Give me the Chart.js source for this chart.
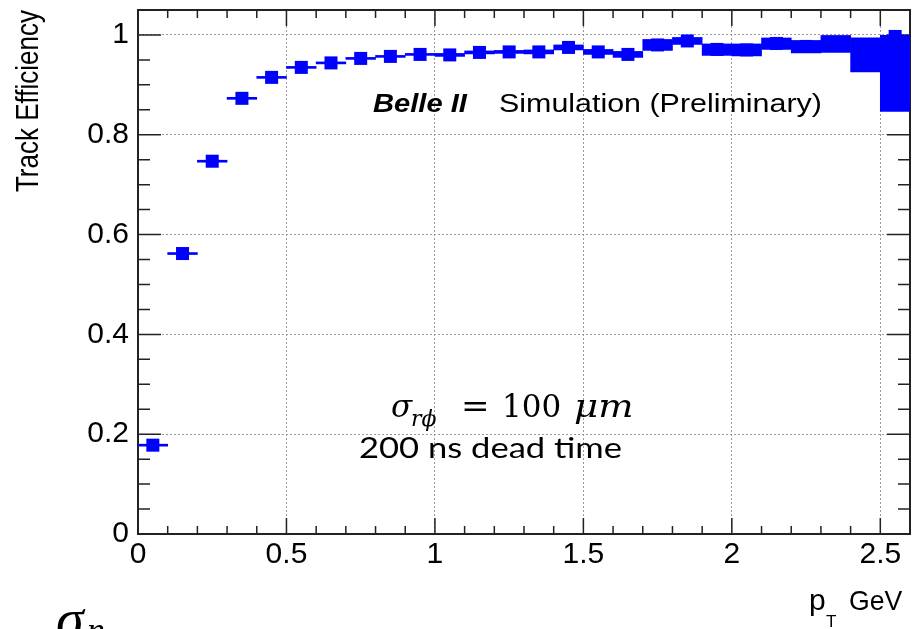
<!DOCTYPE html>
<html>
<head>
<meta charset="utf-8">
<title>Track Efficiency vs pT</title>
<script src="https://cdn.jsdelivr.net/npm/chart.js@4.4.1/dist/chart.umd.min.js"></script>
<style>
  html, body { margin: 0; padding: 0; background: #fff; }
  #wrap { width: 913px; height: 629px; }
</style>
</head>
<body>
<div id="wrap"><canvas id="effChart" width="913" height="629"></canvas></div>
<script>
// pT bin centres in GeV (bins are 0.1 GeV wide)
const ptBins = [0.05, 0.15, 0.25, 0.35, 0.45, 0.55, 0.65, 0.75, 0.85, 0.95,
                1.05, 1.15, 1.25, 1.35, 1.45, 1.55, 1.65, 1.75, 1.85, 1.95,
                2.05, 2.15, 2.25, 2.35, 2.45, 2.55];

// tracking efficiency per bin
const efficiency = [0.178, 0.562, 0.747, 0.873, 0.915, 0.935, 0.944, 0.953, 0.957, 0.961,
                    0.960, 0.965, 0.966, 0.966, 0.975, 0.966, 0.961, 0.980, 0.988, 0.971,
                    0.970, 0.983, 0.977, 0.984, 0.978, 0.997];

// asymmetric uncertainties (lower / upper)
const errLow = [0.002, 0.002, 0.002, 0.002, 0.002, 0.002, 0.002, 0.002, 0.002, 0.002,
                0.003, 0.003, 0.003, 0.004, 0.005, 0.005, 0.006, 0.011, 0.007, 0.012,
                0.012, 0.012, 0.013, 0.019, 0.052, 0.150];
const errHigh = [0.002, 0.002, 0.002, 0.002, 0.002, 0.002, 0.002, 0.002, 0.002, 0.002,
                 0.003, 0.003, 0.003, 0.004, 0.005, 0.005, 0.006, 0.011, 0.007, 0.011,
                 0.012, 0.011, 0.012, 0.015, 0.016, 0.002];

const xTickValues = [0, 0.5, 1, 1.5, 2, 2.5];
const xTickLabels = ['0', '0.5', '1', '1.5', '2', '2.5'];
const yTickValues = [0, 0.2, 0.4, 0.6, 0.8, 1];
const yTickLabels = ['0', '0.2', '0.4', '0.6', '0.8', '1'];

const BLUE = '#0000ff';
const ROOT_FONT = '"Liberation Sans", Arial, sans-serif';
const SERIF = '"Liberation Serif", "DejaVu Serif", serif';
const MATH = '"DejaVu Serif", "Liberation Serif", serif';

// text squeezed/stretched horizontally by sx
function drawText(ctx, text, x, y, font, sx, align) {
    ctx.save();
    ctx.font = font;
    ctx.textAlign = align || 'left';
    ctx.textBaseline = 'alphabetic';
    ctx.translate(x, y);
    ctx.scale(sx, 1);
    ctx.fillText(text, 0, 0);
    ctx.restore();
}

// frame with inward ticks on all four sides
const frameAndTicks = {
    id: 'frameAndTicks',
    beforeDatasetsDraw(chart) {
        const { ctx, chartArea: a, scales: { x, y } } = chart;
        ctx.save();
        ctx.strokeStyle = '#222';
        ctx.lineWidth = 1.5;
        ctx.beginPath();
        for (let i = 1; i < 26; i++) {
            const px = x.getPixelForValue(i / 10);
            const len = i % 5 === 0 ? 16 : 8;
            ctx.moveTo(px, a.bottom); ctx.lineTo(px, a.bottom - len);
            ctx.moveTo(px, a.top); ctx.lineTo(px, a.top + len);
        }
        for (let i = 1; i < 21; i++) {
            const py = y.getPixelForValue(i * 0.05);
            const len = i % 4 === 0 ? 23 : 12;
            ctx.moveTo(a.left, py); ctx.lineTo(a.left + len, py);
            ctx.moveTo(a.right, py); ctx.lineTo(a.right - len, py);
        }
        ctx.stroke();
        ctx.lineWidth = 2;
        ctx.strokeRect(a.left, a.top, a.right - a.left, a.bottom - a.top);
        ctx.restore();
    }
};

// axis titles and text labels
const annotations = {
    id: 'annotations',
    afterDraw(chart) {
        const { ctx, chartArea: a } = chart;
        ctx.save();
        ctx.fillStyle = '#000';

        // y title, reading upwards, ending at the top of the frame
        ctx.save();
        ctx.translate(38, a.top);
        ctx.rotate(-Math.PI / 2);
        ctx.scale(1, 1.22);
        ctx.font = '26px ' + ROOT_FONT;
        ctx.textAlign = 'right';
        ctx.fillText('Track Efficiency', 0, 0);
        ctx.restore();

        // x title
        drawText(ctx, 'p', 809, 610, '30px ' + ROOT_FONT, 1);
        drawText(ctx, 'T', 826, 627, '17px ' + ROOT_FONT, 1);
        drawText(ctx, 'GeV', 849, 610, '28px ' + ROOT_FONT, 0.95);

        // experiment label
        drawText(ctx, 'Belle II', 373, 112, 'italic bold 26px ' + ROOT_FONT, 1.12);
        drawText(ctx, 'Simulation (Preliminary)', 499, 112, '26px ' + ROOT_FONT, 1.17);

        // resolution formula
        drawText(ctx, '\u03C3', 391, 417, 'italic 31px ' + MATH, 1);
        drawText(ctx, 'r\u03D5', 411, 426, 'italic 22px ' + MATH, 1);
        drawText(ctx, '=', 461, 417, '31px ' + MATH, 1.1);
        drawText(ctx, '100', 502, 417, '31px ' + MATH, 1);
        drawText(ctx, '\u03BCm', 574, 417, 'italic 31px ' + MATH, 1.2);

        // dead time note, width fitted
        ctx.font = '29px Lato, "Open Sans", sans-serif';
        const note = '200 ns dead time';
        const w = ctx.measureText(note).width;
        drawText(ctx, note, 359, 458, ctx.font, 263 / w);

        // cut-off symbol at the bottom edge
        drawText(ctx, '\u03C3', 56, 638, 'italic 56px ' + SERIF, 1);
        drawText(ctx, 'n', 87, 642, 'italic 36px ' + SERIF, 1);
        ctx.restore();
    }
};

const tickFont = { family: ROOT_FONT, size: 30 };

new Chart(document.getElementById('effChart'), {
    type: 'scatter',
    data: {
        datasets: [
            {
                type: 'scatter',
                label: 'efficiency',
                data: ptBins.map((x, i) => ({ x: x, y: efficiency[i] })),
                pointStyle: 'rect',
                pointRadius: 9.2,
                pointHoverRadius: 9.2,
                backgroundColor: BLUE,
                borderWidth: 0,
                order: 0
            },
            {
                type: 'bar',
                label: 'uncertainty',
                data: ptBins.map((x, i) => ({ x: x, y: [efficiency[i] - errLow[i], efficiency[i] + errHigh[i]] })),
                backgroundColor: BLUE,
                borderWidth: 0,
                barPercentage: 1,
                categoryPercentage: 1,
                order: 1
            }
        ]
    },
    options: {
        responsive: false,
        animation: false,
        devicePixelRatio: 1,
        layout: { autoPadding: false, padding: { top: 10, right: 3, left: 0, bottom: 0 } },
        plugins: {
            legend: { display: false },
            tooltip: { enabled: false }
        },
        scales: {
            x: {
                type: 'linear',
                min: 0,
                max: 2.6,
                offset: false,
                afterBuildTicks: scale => { scale.ticks = xTickValues.map(v => ({ value: v })); },
                afterFit: scale => {
                    scale.height = 95;
                    scale.paddingLeft = 0;
                    scale.paddingRight = 0;
                },
                ticks: {
                    callback: (v, i) => xTickLabels[i],
                    font: tickFont,
                    color: '#000',
                    padding: 3,
                    maxRotation: 0,
                    autoSkip: false
                },
                grid: { color: '#999', lineWidth: 1, drawTicks: false, offset: false },
                border: { display: false, dash: [2, 2] }
            },
            y: {
                type: 'linear',
                min: 0,
                max: 1.05,
                afterBuildTicks: scale => { scale.ticks = yTickValues.map(v => ({ value: v })); },
                afterFit: scale => {
                    scale.width = 138;
                    scale.paddingTop = 0;
                    scale.paddingBottom = 0;
                },
                ticks: {
                    callback: (v, i) => yTickLabels[i],
                    font: tickFont,
                    color: '#000',
                    padding: 9
                },
                grid: { color: '#999', lineWidth: 1, drawTicks: false },
                border: { display: false, dash: [2, 2] }
            }
        }
    },
    plugins: [frameAndTicks, annotations]
});
</script>
</body>
</html>
